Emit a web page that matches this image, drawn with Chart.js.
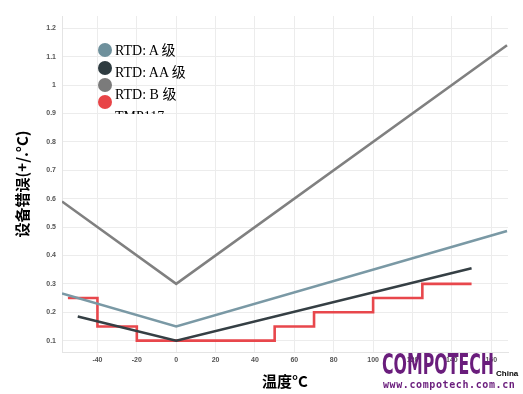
<!DOCTYPE html>
<html>
<head>
<meta charset="utf-8">
<script src="https://cdn.jsdelivr.net/npm/chart.js@4/dist/chart.umd.min.js"></script>
<style>
  html, body { margin: 0; padding: 0; background: #fff; }
  #wrap { position: relative; width: 523px; height: 394px; overflow: hidden; }
  #chart { position: absolute; left: 0; top: 0; }
  .legend { position: absolute; left: 98px; top: 40px; width: 110px; height: 74px; overflow: hidden; }
  .legend .dot { position: absolute; left: 0; width: 14px; height: 14px; border-radius: 50%; }
  .legend .txt { position: absolute; left: 17px; font: 14px "Liberation Serif", "Noto Sans CJK SC", serif; color: #000; white-space: nowrap; line-height: 16px; }
  .mark { position: absolute; left: 382px; top: 350px; color: #6a1d7c; }
  .mark .big { display: inline-block; font: bold 30px "DejaVu Sans Condensed", "Liberation Sans", sans-serif; transform-origin: left top; line-height: 30px; white-space: nowrap; }
  .mark .china { position: absolute; left: 114px; top: 19px; font: bold 8px "Liberation Sans", sans-serif; color: #000; }
  .mark .url { position: absolute; left: 1px; top: 29px; font: bold 10px "DejaVu Sans Mono", monospace; letter-spacing: 0.6px; white-space: nowrap; }
</style>
</head>
<body>
<div id="wrap">
  <canvas id="chart" width="523" height="394"></canvas>
  <div class="legend" id="legend"></div>
  <div class="mark">
    <div class="big" id="big">COMPOTECH</div>
    <div class="china">China</div>
    <div class="url">www.compotech.com.cn</div>
  </div>
</div>
<script>
// values
const seriesNames = ['RTD: A 级', 'RTD: AA 级', 'RTD: B 级', 'TMP117'];
const seriesColors = ['#7a99a5', '#353f44', '#808080', '#e8474c'];
const legendDotColors = ['#6e909c', '#2e3b40', '#7b7b7b', '#e84447'];

const classAX = [-58, 0, 168];
const classAY = [0.266, 0.15, 0.486];
const classAAX = [-50, 0, 150];
const classAAY = [0.185, 0.1, 0.355];
const classBX = [-58, 0, 168];
const classBY = [0.59, 0.3, 1.14];
const tmpX = [-55, -40, -20, 50, 70, 100, 125, 150];
const tmpY = [0.25, 0.15, 0.1, 0.15, 0.2, 0.25, 0.3, 0.3];

const xTicks = [-40, -20, 0, 20, 40, 60, 80, 100, 120, 140, 160];
const yTicks = [0.1, 0.2, 0.3, 0.4, 0.5, 0.6, 0.7, 0.8, 0.9, 1, 1.1, 1.2];

const toPts = (xs, ys) => xs.map((x, i) => ({ x, y: ys[i] }));

// legend
const legend = document.getElementById('legend');
const dotTops = [3, 21, 38, 55];
const txtTops = [3, 25, 47, 69];
seriesNames.forEach((name, i) => {
  const d = document.createElement('div');
  d.className = 'dot';
  d.style.top = dotTops[i] + 'px';
  d.style.background = legendDotColors[i];
  legend.appendChild(d);
  const t = document.createElement('div');
  t.className = 'txt';
  t.style.top = txtTops[i] + 'px';
  t.textContent = name;
  legend.appendChild(t);
});

// squeeze the watermark word to its width in the picture
const big = document.getElementById('big');
const bw = big.getBoundingClientRect().width;
big.style.transform = 'scale(' + (112 / bw) + ', 0.95)';

const tickFont = { family: 'Arial, "Liberation Sans", sans-serif', size: 7, weight: 'bold' };
const titleFont = { family: '"Noto Sans CJK SC", "Liberation Serif", serif', size: 15, weight: 'bold' };

new Chart(document.getElementById('chart'), {
  type: 'line',
  data: {
    datasets: [
      { label: seriesNames[0], data: toPts(classAX, classAY), borderColor: seriesColors[0] },
      { label: seriesNames[1], data: toPts(classAAX, classAAY), borderColor: seriesColors[1] },
      { label: seriesNames[2], data: toPts(classBX, classBY), borderColor: seriesColors[2] },
      { label: seriesNames[3], data: toPts(tmpX, tmpY), borderColor: seriesColors[3], stepped: true }
    ].map(ds => Object.assign(ds, { borderWidth: 2.6, pointRadius: 0, fill: false, tension: 0 }))
  },
  options: {
    responsive: false,
    animation: false,
    layout: { padding: { top: 16, right: 15, left: 0, bottom: 0 } },
    plugins: { legend: { display: false }, tooltip: { enabled: false } },
    scales: {
      x: {
        type: 'linear',
        min: -58,
        max: 168.5,
        afterBuildTicks: s => { s.ticks = xTicks.map(v => ({ value: v })); },
        afterFit: s => { s.height = 42; },
        grid: { color: '#ececec', drawTicks: false },
        border: { color: '#e4e4e4' },
        ticks: { color: '#555', font: tickFont, padding: 4, maxRotation: 0 },
        title: { display: true, text: '温度°C', color: '#000', font: titleFont, padding: { top: 0, bottom: 4 } }
      },
      y: {
        min: 0.06,
        max: 1.243,
        afterBuildTicks: s => { s.ticks = yTicks.map(v => ({ value: v })); },
        afterFit: s => { s.width = 62; },
        grid: { color: '#ececec', drawTicks: false },
        border: { color: '#e4e4e4' },
        ticks: { color: '#555', font: tickFont, padding: 6, callback: v => String(+v.toFixed(1)) },
        title: { display: true, text: '设备错误(+/.°C)', color: '#000', font: titleFont, padding: { top: 13, bottom: 0 } }
      }
    }
  }
});
</script>
</body>
</html>
